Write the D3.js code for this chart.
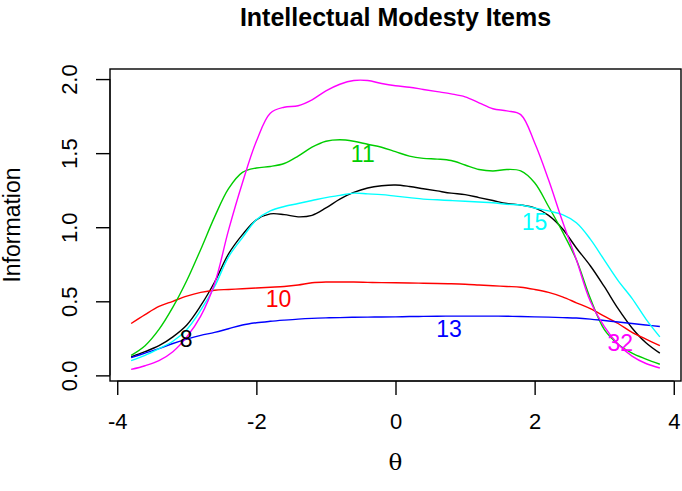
<!doctype html>
<html>
    <head>
        <meta charset="utf-8">
        <title>Intellectual Modesty Items</title>
        <style>
            html, body { margin: 0; padding: 0; background: #fff; }
            svg { display: block; }
            text { font-family: "Liberation Sans", Arial, Helvetica, sans-serif; fill: #000; }
        </style>
    </head>
<body>

    <script src="https://d3js.org/d3.v7.min.js"></script>

    <script>

        // theta grid shared by every item curve
        var theta = [-3.8, -3.6, -3.4, -3.2, -3.0, -2.8, -2.6, -2.4, -2.2, -2.0,
                     -1.8, -1.6, -1.4, -1.2, -1.0, -0.8, -0.6, -0.4, -0.2, 0,
                     0.2, 0.4, 0.6, 0.8, 1.0, 1.2, 1.4, 1.6, 1.8, 2.0,
                     2.2, 2.4, 2.6, 2.8, 3.0, 3.2, 3.4, 3.6, 3.8];

        var item8  = [0.125, 0.16, 0.20, 0.26, 0.34, 0.47, 0.63, 0.82, 0.95, 1.05,
                      1.09, 1.085, 1.07, 1.08, 1.13, 1.19, 1.235, 1.265, 1.28, 1.285,
                      1.275, 1.26, 1.245, 1.23, 1.22, 1.20, 1.18, 1.16, 1.15, 1.13,
                      1.08, 0.99, 0.86, 0.74, 0.60, 0.45, 0.32, 0.22, 0.15];
        var item10 = [0.35, 0.41, 0.465, 0.50, 0.535, 0.56, 0.575, 0.58, 0.585, 0.59,
                      0.595, 0.60, 0.61, 0.625, 0.63, 0.63, 0.63, 0.628, 0.626, 0.625,
                      0.624, 0.622, 0.62, 0.618, 0.615, 0.61, 0.605, 0.60, 0.595, 0.58,
                      0.56, 0.53, 0.49, 0.45, 0.40, 0.35, 0.29, 0.245, 0.20];
        var item11 = [0.135, 0.20, 0.31, 0.46, 0.64, 0.85, 1.07, 1.26, 1.37, 1.40,
                      1.41, 1.43, 1.48, 1.54, 1.58, 1.59, 1.58, 1.56, 1.54, 1.51,
                      1.48, 1.465, 1.46, 1.45, 1.42, 1.39, 1.38, 1.39, 1.38, 1.30,
                      1.14, 0.97, 0.78, 0.52, 0.31, 0.21, 0.15, 0.11, 0.075];
        var item13 = [0.12, 0.15, 0.18, 0.215, 0.245, 0.27, 0.29, 0.315, 0.34, 0.355,
                      0.365, 0.373, 0.38, 0.385, 0.388, 0.39, 0.392, 0.393, 0.394, 0.395,
                      0.397, 0.398, 0.399, 0.40, 0.40, 0.40, 0.40, 0.399, 0.397, 0.395,
                      0.393, 0.39, 0.387, 0.38, 0.37, 0.36, 0.35, 0.34, 0.33];
        var item15 = [0.10, 0.135, 0.18, 0.23, 0.31, 0.44, 0.60, 0.80, 0.93, 1.05,
                      1.11, 1.14, 1.16, 1.18, 1.20, 1.215, 1.23, 1.225, 1.22, 1.21,
                      1.20, 1.19, 1.185, 1.18, 1.175, 1.17, 1.165, 1.155, 1.15, 1.13,
                      1.11, 1.085, 1.03, 0.92, 0.78, 0.64, 0.52, 0.38, 0.26];
        var item32 = [0.04, 0.065, 0.10, 0.16, 0.26, 0.40, 0.62, 0.98, 1.30, 1.58,
                      1.77, 1.81, 1.82, 1.86, 1.92, 1.965, 1.99, 1.99, 1.97, 1.955,
                      1.945, 1.93, 1.915, 1.90, 1.88, 1.84, 1.80, 1.785, 1.76, 1.57,
                      1.32, 1.04, 0.78, 0.50, 0.33, 0.21, 0.13, 0.08, 0.05];

        var itemNames  = ['8', '10', '11', '13', '15', '32'];
        var itemValues = [item8, item10, item11, item13, item15, item32];
        var itemColors = ['#000000', '#ff0000', '#00cd00', '#0000ff', '#00ffff', '#ff00ff'];
        // where each item number sits (theta, information)
        var labelTheta = [-3.01, -1.68, -0.47, 0.77, 2.00, 3.23];
        var labelInfo  = [0.245, 0.517, 1.497, 0.315, 1.04, 0.22];

        var xTicks = [-4, -2, 0, 2, 4];
        var yTicks = [0, 0.5, 1, 1.5, 2];
        var yTickLabels = ['0.0', '0.5', '1.0', '1.5', '2.0'];

        var width = 682, height = 491;
        var box = {left: 110, right: 681, top: 69, bottom: 381};

        // R style 4% padding around the data range
        var xmin = d3.min(theta), xmax = d3.max(theta);
        var ymin = d3.min(itemValues, function(s){ return d3.min(s); });
        var ymax = d3.max(itemValues, function(s){ return d3.max(s); });
        var xpad = (xmax - xmin) * 0.04, ypad = (ymax - ymin) * 0.04;

        var x = d3.scaleLinear().domain([xmin - xpad, xmax + xpad]).range([box.left, box.right]);
        var y = d3.scaleLinear().domain([ymin - ypad, ymax + ypad]).range([box.bottom, box.top]);

        var svg = d3.select('body')
            .append('svg')
            .attr('width', width)
            .attr('height', height);

        var line = d3.line()
            .x(function(d){ return x(d[0]); })
            .y(function(d){ return y(d[1]); })
            .curve(d3.curveCatmullRom.alpha(0.5));

        svg.append('g')
            .selectAll('path')
            .data(itemValues)
            .enter()
            .append('path')
            .attr('d', function(s){ return line(s.map(function(v, i){ return [theta[i], v]; })); })
            .attr('fill', 'none')
            .attr('stroke', function(d, i){ return itemColors[i]; })
            .attr('stroke-width', 1.4);

        svg.append('g')
            .selectAll('text')
            .data(itemNames)
            .enter()
            .append('text')
            .attr('x', function(d, i){ return x(labelTheta[i]); })
            .attr('y', function(d, i){ return y(labelInfo[i]); })
            .attr('dy', '0.36em')
            .attr('text-anchor', 'middle')
            .style('font-size', '23px')
            .style('fill', function(d, i){ return itemColors[i]; })
            .text(function(d){ return d; });

        // frame
        svg.append('rect')
            .attr('x', box.left)
            .attr('y', box.top)
            .attr('width', box.right - box.left)
            .attr('height', box.bottom - box.top)
            .attr('fill', 'none')
            .attr('stroke', '#000')
            .attr('stroke-width', 1.4);

        // bottom axis
        var xAxis = d3.axisBottom(x).tickValues(xTicks).tickSize(14).tickPadding(18)
            .tickFormat(function(d){ return d3.format('d')(d).replace('\u2212', '-'); });
        var gx = svg.append('g')
            .attr('transform', 'translate(0,' + box.bottom + ')')
            .call(xAxis);
        gx.select('.domain')
            .attr('d', 'M' + x(-4) + ',0H' + x(4));
        gx.selectAll('line').attr('stroke-width', 1.4);
        gx.selectAll('text').style('font-size', '22px').style('font-family', '"Liberation Sans", Arial, sans-serif');

        // left axis, labels turned like R's default
        var yAxis = d3.axisLeft(y).tickValues(yTicks).tickSize(14)
            .tickFormat(function(d, i){ return yTickLabels[i]; });
        var gy = svg.append('g')
            .attr('transform', 'translate(' + box.left + ',0)')
            .call(yAxis);
        gy.select('.domain')
            .attr('d', 'M0,' + y(0) + 'V' + y(2));
        gy.selectAll('line').attr('stroke-width', 1.4);
        gy.selectAll('text')
            .attr('x', null).attr('dy', null)
            .attr('text-anchor', 'middle')
            .attr('transform', 'translate(-33,0) rotate(-90)')
            .style('font-size', '22px')
            .style('font-family', '"Liberation Sans", Arial, sans-serif');

        svg.append('text')
            .attr('x', (box.left + box.right) / 2)
            .attr('y', 26)
            .attr('text-anchor', 'middle')
            .style('font-size', '25px')
            .style('font-weight', 'bold')
            .text('Intellectual Modesty Items');

        svg.append('text')
            .attr('transform', 'translate(20,' + (box.top + box.bottom) / 2 + ') rotate(-90)')
            .attr('text-anchor', 'middle')
            .style('font-size', '23px')
            .text('Information');

        svg.append('text')
            .attr('x', (box.left + box.right) / 2)
            .attr('y', 470)
            .attr('text-anchor', 'middle')
            .style('font-family', '"DejaVu Serif", "Liberation Serif", serif')
            .style('font-size', '23px')
            .text('\u03b8');

    </script>

</body>
</html>
